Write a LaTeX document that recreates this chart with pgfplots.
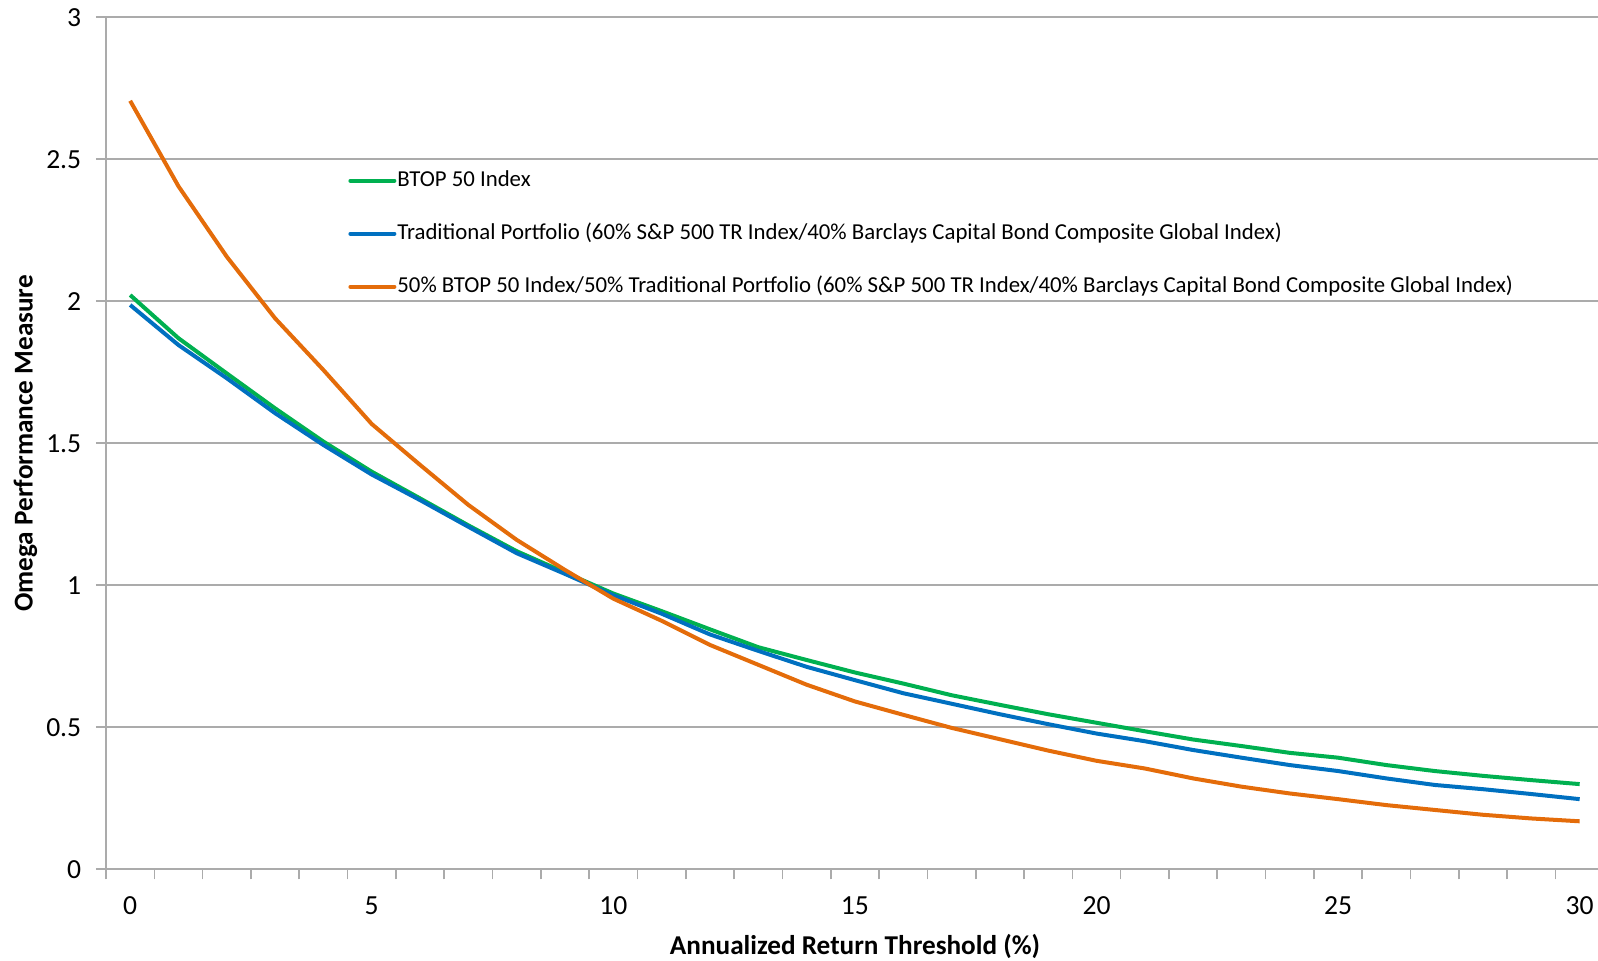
\documentclass[border=0pt]{standalone}
\usepackage{pgfplots}
\pgfplotsset{compat=1.18}
\usepackage{pgfplotstable}
\usepackage{fontspec}
\setmainfont{Carlito}
\definecolor{cg}{HTML}{00B050}
\definecolor{cb}{HTML}{0070C0}
\definecolor{co}{HTML}{E46C0A}
\definecolor{gr}{HTML}{ABABAB}

\pgfplotstableread{
x g b o
0 2.022 1.987 2.706
1 1.870 1.846 2.405
2 1.746 1.729 2.157
3 1.623 1.606 1.940
4 1.506 1.494 1.758
5 1.400 1.390 1.568
6 1.306 1.300 1.424
7 1.211 1.206 1.283
8 1.120 1.113 1.160
9 1.045 1.040 1.054
10 0.971 0.965 0.953
11 0.909 0.900 0.875
12 0.845 0.827 0.790
13 0.782 0.769 0.720
14 0.737 0.713 0.650
15 0.693 0.666 0.591
16 0.654 0.620 0.544
17 0.613 0.583 0.498
18 0.579 0.546 0.458
19 0.546 0.511 0.418
20 0.516 0.478 0.382
21 0.486 0.451 0.355
22 0.457 0.420 0.320
23 0.434 0.393 0.291
24 0.410 0.367 0.267
25 0.393 0.346 0.247
26 0.367 0.320 0.226
27 0.346 0.297 0.209
28 0.329 0.282 0.192
29 0.314 0.265 0.179
30 0.300 0.247 0.169
}\data

\begin{document}
\begin{tikzpicture}
\begin{axis}[name=ax, scale only axis, width=746pt, height=426pt,
  xmin=-0.5, xmax=30.38, ymin=0, ymax=3,
  axis lines*=left, axis line style={gr, line width=0.8pt},
  xtick={0,5,...,30}, major x tick style={draw=none},
  minor xtick={-0.5,0.5,...,29.5}, minor x tick style={gr, line width=0.8pt},
  ytick={0,0.5,...,3}, ytick style={gr, line width=0.8pt},
  major tick length=5pt, minor tick length=5pt, tick align=outside,
  ymajorgrids, grid style={gr, line width=0.8pt},
  /pgf/number format/assume math mode=true,
  tick label style={font=\fontsize{13.8}{16}\selectfont, inner sep=0pt},
  xticklabel style={anchor=center, yshift=-13.2pt},
  yticklabel style={anchor=east, xshift=-7.2pt},
  xlabel={Annualized Return Threshold (\%)},
  ylabel={Omega Performance Measure},
  label style={font=\bfseries\fontsize{13.6}{16}\selectfont},
  xlabel style={at={([yshift=-38.8pt]rel axis cs:0.502,0)}, anchor=center},
  ylabel style={at={([xshift=-40.3pt]rel axis cs:0,0.5)}, anchor=center},
  legend style={draw=none, fill=none, at={(rel axis cs:0.1622,0.821)}, anchor=north west,
    font=\fontsize{11.4}{13}\selectfont, row sep=16pt, inner sep=0pt,
    nodes={inner sep=0pt, text height=8pt, text depth=2.5pt},
    /tikz/every odd column/.append style={column sep=0.5pt}},
  legend cell align=left,
  legend image code/.code={\draw[#1, line width=2pt, line cap=round] (0pt,0pt) -- (22pt,0pt);},
]
\addplot[cg, line width=2pt] table[x=x, y=g] {\data};
\addlegendentry{BTOP 50 Index}
\addplot[cb, line width=2pt] table[x=x, y=b] {\data};
\addlegendentry{Traditional Portfolio (60\% S\&P 500 TR Index/40\% Barclays Capital Bond Composite Global Index)}
\addplot[co, line width=2pt] table[x=x, y=o] {\data};
\addlegendentry{50\% BTOP 50 Index/50\% Traditional Portfolio (60\% S\&P 500 TR Index/40\% Barclays Capital Bond Composite Global Index)}
\end{axis}
\pgfresetboundingbox
\path[use as bounding box] ([shift={(-53pt,-45.8pt)}]ax.south west) rectangle ([shift={(0pt,8.65pt)}]ax.north east);
\end{tikzpicture}
\end{document}
